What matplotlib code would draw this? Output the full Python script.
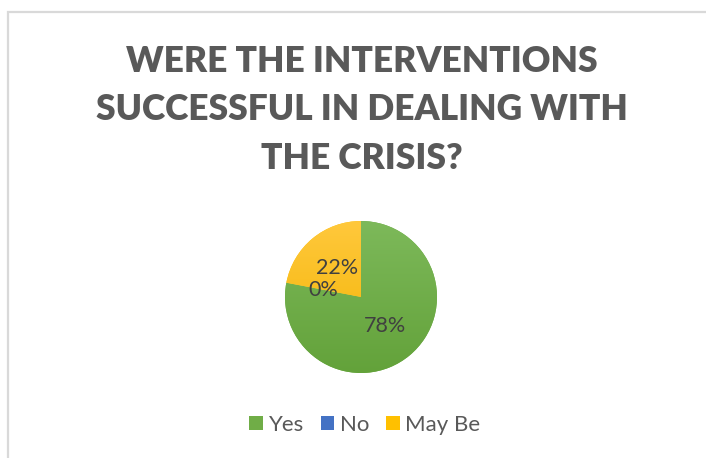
import numpy as np
import matplotlib.pyplot as plt
from matplotlib.colors import to_rgb
from matplotlib.patches import Rectangle, Patch

categories = ["Yes", "No", "May Be"]
shares = [78, 0, 22]
colors = ["#70AD47", "#4472C4", "#FFC000"]
tops = ["#7DB95A", "#5080CC", "#FFC83C"]
bottoms = ["#63A23A", "#3A66B8", "#F2B300"]
title = "WERE THE INTERVENTIONS\nSUCCESSFUL IN DEALING WITH\nTHE CRISIS?"

plt.rcParams['font.family'] = ['Lato', 'DejaVu Sans']
text_color = "#595959"

W, H = 706, 458
fig = plt.figure(figsize=(W / 100, H / 100), dpi=100)

# chart area border (only left and top edges fall inside the image)
fig.patches.append(Rectangle((8 / W, -0.1), 1.2, (H - 12) / H + 0.1,
                             transform=fig.transFigure, fill=False,
                             edgecolor="#D9D9D9", linewidth=1.6))

fig.text(362 / W, 1 - 110 / H, title, ha="center", va="center",
         fontsize=25.5, fontweight="heavy", color=text_color, linespacing=1.56)

cx, cy, r = 361, 297, 76
ax = fig.add_axes([(cx - r) / W, (H - cy - r) / H, 2 * r / W, 2 * r / H])
wedges, texts, autotexts = ax.pie(
    shares, colors=colors, startangle=90, counterclock=False,
    autopct=lambda p: f"{p:.0f}%", pctdistance=0.5,
    textprops=dict(fontsize=15.5, color="#404040"),
    wedgeprops=dict(linewidth=0))
ax.set_xlim(-1, 1)
ax.set_ylim(-1, 1)
ax.set_aspect("equal")
ax.axis("off")

# soft vertical gradient on each slice
for w, c0, c1 in zip(wedges, tops, bottoms):
    grad = np.linspace(0, 1, 256)[:, None]
    rgb0 = np.array(to_rgb(c0))
    rgb1 = np.array(to_rgb(c1))
    img = rgb0 + (rgb1 - rgb0) * grad[..., None]
    img = np.repeat(img, 2, axis=1)
    im = ax.imshow(img, extent=(-1, 1, -1, 1), origin="upper", zorder=w.get_zorder())
    im.set_clip_path(w)
for t in autotexts:
    t.set_zorder(5)

handles = [Patch(facecolor=c, edgecolor="none") for c in colors]
fig.legend(handles, categories, loc="center", bbox_to_anchor=(365 / W, 1 - 425 / H),
           ncol=3, frameon=False, fontsize=16, labelcolor=text_color,
           handlelength=0.62, handleheight=0.62, handletextpad=0.25,
           columnspacing=0.75)

fig.savefig("out.png", dpi=100)
